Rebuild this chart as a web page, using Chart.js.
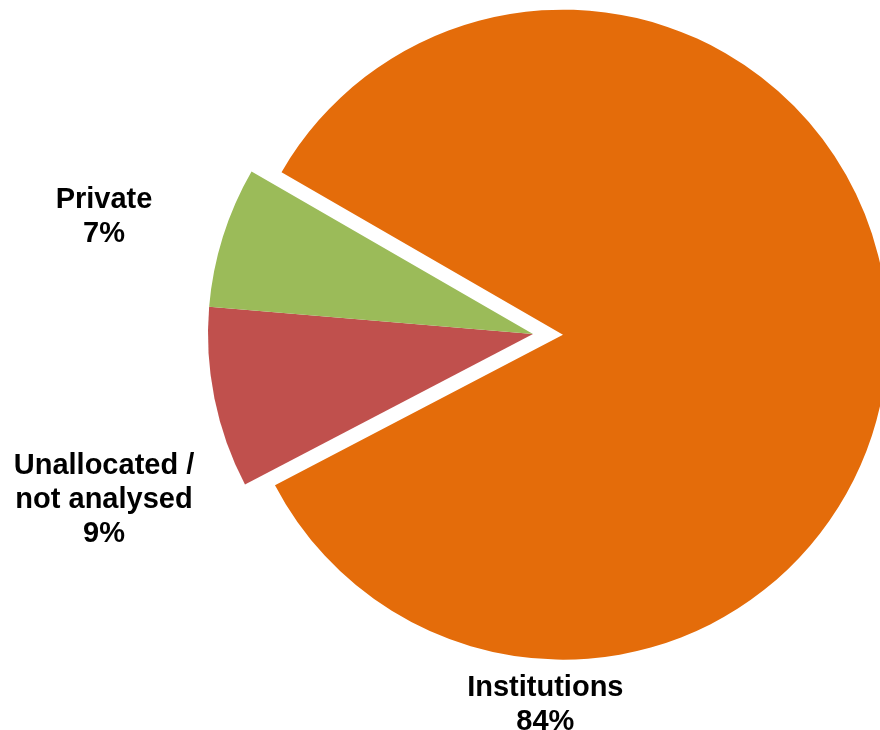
<!DOCTYPE html>
<html>
<head>
<meta charset="utf-8">
<script src="https://cdn.jsdelivr.net/npm/chart.js@4/dist/chart.umd.min.js"></script>
<style>
    html, body { margin: 0; padding: 0; background: #fff; }
    canvas { display: block; }
</style>
</head>
<body>
<canvas id="fundingChart" width="880" height="730"></canvas>
<script>
// Funding split by source (percent)
const categories = [['Institutions'], ['Unallocated /', 'not analysed'], ['Private']];
const shares = [84, 9, 7];
const sliceColors = ['#E46C0A', '#C0504D', '#9BBB59'];

// how far each slice is pulled out from the centre, px
const sliceExplode = [30, 0, 0];
// label anchors, in units of the pie radius from the pie centre
const labelAnchors = [[0.038, 1.142], [-1.32, 0.511], [-1.32, -0.36]];

// Chart.js grows large slices when `offset` is used, so shift the arc centre instead
const explodeSlices = {
    id: 'explodeSlices',
    afterUpdate(chart) {
        chart.getDatasetMeta(0).data.forEach(function (arc, i) {
            const d = sliceExplode[i];
            if (!d) return;
            const mid = (arc.startAngle + arc.endAngle) / 2;
            arc.x += Math.cos(mid) * d;
            arc.y += Math.sin(mid) * d;
        });
    }
};

const sliceLabels = {
    id: 'sliceLabels',
    afterDatasetsDraw(chart) {
        const ctx = chart.ctx;
        const area = chart.chartArea;
        const px = (area.left + area.right) / 2;
        const py = (area.top + area.bottom) / 2;
        const arcs = chart.getDatasetMeta(0).data;
        const lineHeight = 34;
        ctx.save();
        ctx.font = 'bold 29px "Liberation Sans", Arial, sans-serif';
        ctx.fillStyle = '#000';
        ctx.textAlign = 'center';
        ctx.textBaseline = 'middle';
        arcs.forEach(function (arc, i) {
            const r = arc.outerRadius;
            const cx = px + labelAnchors[i][0] * r;
            const cy = py + labelAnchors[i][1] * r;
            const lines = categories[i].concat([shares[i] + '%']);
            const top = cy - (lines.length - 1) * lineHeight / 2;
            lines.forEach(function (line, j) {
                ctx.fillText(line, cx, top + j * lineHeight);
            });
        });
        ctx.restore();
    }
};

document.addEventListener('DOMContentLoaded', function () {
    const ctx = document.getElementById('fundingChart').getContext('2d');
    new Chart(ctx, {
        type: 'pie',
        data: {
            labels: categories,
            datasets: [{
                data: shares,
                backgroundColor: sliceColors,
                borderWidth: 0,
                radius: 325
            }]
        },
        options: {
            responsive: false,
            animation: false,
            rotation: 300,
            layout: {
                padding: { left: 186, right: 0, top: 0, bottom: 62 }
            },
            plugins: {
                legend: { display: false },
                tooltip: { enabled: false }
            }
        },
        plugins: [explodeSlices, sliceLabels]
    });
});
</script>
</body>
</html>
